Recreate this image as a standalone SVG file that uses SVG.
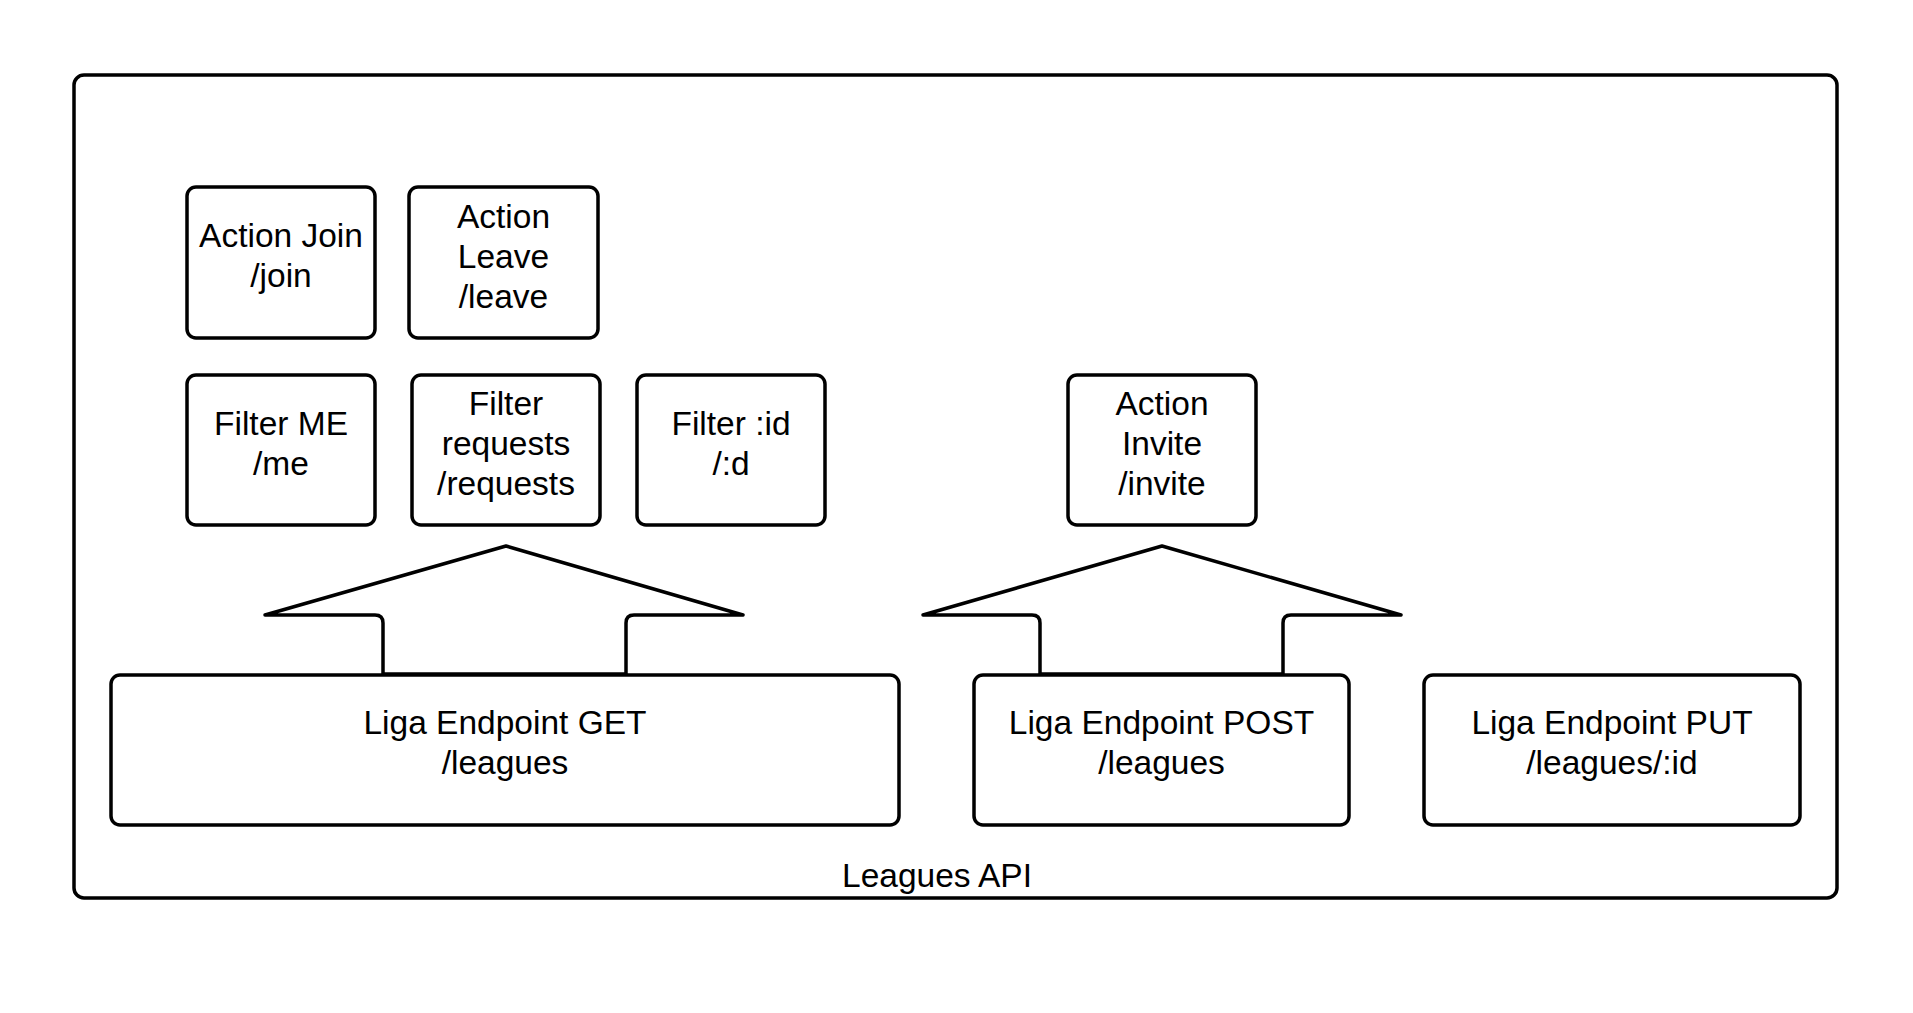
<svg xmlns="http://www.w3.org/2000/svg" width="1913" height="1013" viewBox="0 0 1913 1013">
<style>
.box{fill:#fff;stroke:#000;stroke-width:3.5}
.arr{fill:#fff;stroke:#000;stroke-width:3.5;stroke-linejoin:round}
text{font-family:"Liberation Sans",Arial,sans-serif;font-size:33.5px;fill:#000;text-anchor:middle}
</style>
<rect width="1913" height="1013" fill="#fff"/>
<g id="leagues-api">
<rect class="box" x="74" y="75" width="1763" height="823" rx="10"/>
<text x="937" y="887">Leagues API</text>
</g>
<g id="connectors">
<path class="arr" d="M506,546 L743,615 L634,615 Q626,615 626,623 L626,674 L383,674 L383,623 Q383,615 375,615 L265,615 Z"/>
<path class="arr" d="M1162,546 L1401,615 L1291,615 Q1283,615 1283,623 L1283,674 L1040,674 L1040,623 Q1040,615 1032,615 L923,615 Z"/>
</g>
<g id="action-join">
<rect class="box" x="187" y="187" width="188" height="151" rx="9"/>
<text x="281" y="247">Action Join</text>
<text x="281" y="287">/join</text>
</g>
<g id="action-leave">
<rect class="box" x="409" y="187" width="189" height="151" rx="9"/>
<text x="503.5" y="228">Action</text>
<text x="503.5" y="268">Leave</text>
<text x="503.5" y="308">/leave</text>
</g>
<g id="filter-me">
<rect class="box" x="187" y="375" width="188" height="150" rx="9"/>
<text x="281" y="435">Filter ME</text>
<text x="281" y="475">/me</text>
</g>
<g id="filter-requests">
<rect class="box" x="412" y="375" width="188" height="150" rx="9"/>
<text x="506" y="415">Filter</text>
<text x="506" y="455">requests</text>
<text x="506" y="495">/requests</text>
</g>
<g id="filter-id">
<rect class="box" x="637" y="375" width="188" height="150" rx="9"/>
<text x="731" y="435">Filter :id</text>
<text x="731" y="475">/:d</text>
</g>
<g id="action-invite">
<rect class="box" x="1068" y="375" width="188" height="150" rx="9"/>
<text x="1162" y="415">Action</text>
<text x="1162" y="455">Invite</text>
<text x="1162" y="495">/invite</text>
</g>
<g id="endpoint-get">
<rect class="box" x="111" y="675" width="788" height="150" rx="9"/>
<text x="505" y="734">Liga Endpoint GET</text>
<text x="505" y="774">/leagues</text>
</g>
<g id="endpoint-post">
<rect class="box" x="974" y="675" width="375" height="150" rx="9"/>
<text x="1161.5" y="734">Liga Endpoint POST</text>
<text x="1161.5" y="774">/leagues</text>
</g>
<g id="endpoint-put">
<rect class="box" x="1424" y="675" width="376" height="150" rx="9"/>
<text x="1612" y="734">Liga Endpoint PUT</text>
<text x="1612" y="774">/leagues/:id</text>
</g>
</svg>
